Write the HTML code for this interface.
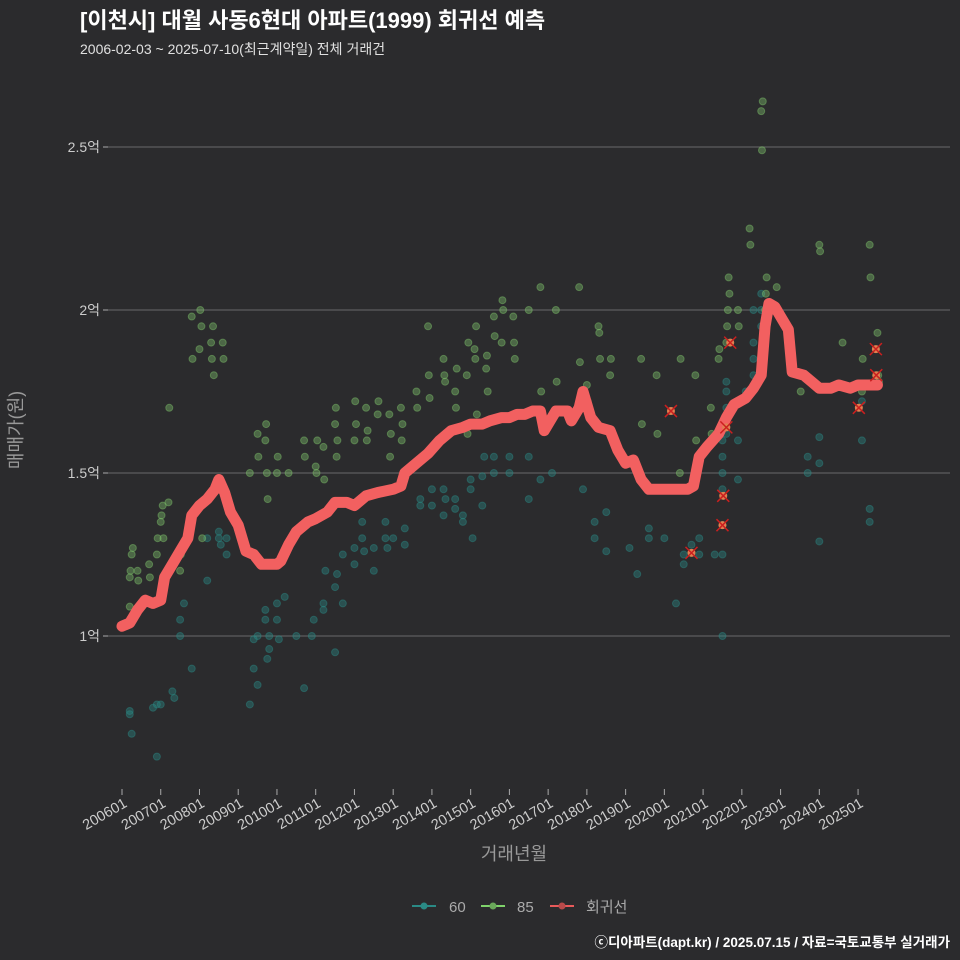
<!DOCTYPE html>
<html><head><meta charset="utf-8"><style>
body{margin:0;background:#2b2b2d;}
svg{display:block;font-family:"Liberation Sans","Noto Sans CJK KR",sans-serif;}
</style></head><body>
<svg id="chart" width="960" height="960" viewBox="0 0 960 960">
<rect width="960" height="960" fill="#2b2b2d"/>
<text x="80" y="28" fill="#ffffff" font-size="22" font-weight="bold">[이천시] 대월 사동6현대 아파트(1999) 회귀선 예측</text>
<text x="80" y="54" fill="#e0e0e0" font-size="14">2006-02-03 ~ 2025-07-10(최근계약일) 전체 거래건</text>
<g id="grid"></g><g id="pts"></g><g id="reg"></g><g id="xs"></g><g id="axes"></g>
<text transform="translate(22,430) rotate(-90)" text-anchor="middle" fill="#999" font-size="18">매매가(원)</text>
<text x="514" y="860" text-anchor="middle" fill="#999" font-size="18">거래년월</text>
<g>
<g><line x1="412" y1="906" x2="436" y2="906" stroke="#2a8a85" stroke-width="2"/><circle cx="424" cy="906" r="3.5" fill="#2a8a85"/><text x="449" y="912" fill="#aaa" font-size="15">60</text></g>
<g><line x1="481" y1="906" x2="505" y2="906" stroke="#7fd36b" stroke-width="2"/><circle cx="493" cy="906" r="3.5" fill="#6aa85a"/><text x="517" y="912" fill="#aaa" font-size="15">85</text></g>
<g><line x1="550" y1="906" x2="574" y2="906" stroke="#e85a5a" stroke-width="2"/><circle cx="562" cy="906" r="3.5" fill="#b84a4a"/><text x="586" y="912" fill="#aaa" font-size="15">회귀선</text></g>
</g>
<text x="950" y="947" text-anchor="end" fill="#fff" font-size="13.5" font-weight="bold">ⓒ디아파트(dapt.kr) / 2025.07.15 / 자료=국토교통부 실거래가</text>
</svg>
<script>
const yTicks=[1,1.5,2,2.5];
const yTickLabels=["1억","1.5억","2억","2.5억"];
const xTickYears=[2006,2007,2008,2009,2010,2011,2012,2013,2014,2015,2016,2017,2018,2019,2020,2021,2022,2023,2024,2025];
const regT=[2006.0,2006.2,2006.4,2006.6,2006.8,2007.0,2007.1,2007.3,2007.5,2007.7,2007.8,2008.0,2008.2,2008.4,2008.5,2008.65,2008.8,2009.0,2009.1,2009.2,2009.4,2009.6,2009.8,2010.0,2010.1,2010.3,2010.5,2010.8,2011.0,2011.3,2011.5,2011.8,2012.0,2012.3,2012.6,2013.0,2013.2,2013.3,2013.6,2013.9,2014.2,2014.5,2014.8,2015.0,2015.3,2015.5,2015.8,2016.0,2016.2,2016.4,2016.6,2016.8,2016.9,2017.2,2017.5,2017.6,2017.8,2017.9,2018.1,2018.3,2018.6,2018.8,2019.0,2019.2,2019.4,2019.6,2019.8,2020.0,2020.3,2020.6,2020.75,2020.9,2021.1,2021.4,2021.6,2021.8,2022.1,2022.3,2022.5,2022.6,2022.7,2022.85,2023.0,2023.2,2023.3,2023.6,2023.8,2024.0,2024.3,2024.5,2024.8,2025.0,2025.3,2025.5];
const regV=[1.03,1.04,1.08,1.11,1.10,1.11,1.18,1.22,1.26,1.30,1.37,1.40,1.42,1.45,1.48,1.44,1.38,1.34,1.30,1.26,1.25,1.22,1.22,1.22,1.23,1.28,1.32,1.35,1.36,1.38,1.41,1.41,1.40,1.43,1.44,1.45,1.46,1.50,1.53,1.56,1.60,1.63,1.64,1.65,1.65,1.66,1.67,1.67,1.68,1.68,1.69,1.69,1.63,1.69,1.69,1.66,1.70,1.75,1.67,1.64,1.63,1.57,1.53,1.54,1.48,1.45,1.45,1.45,1.45,1.45,1.46,1.55,1.58,1.62,1.67,1.71,1.73,1.76,1.80,1.95,2.02,2.01,1.98,1.94,1.81,1.80,1.78,1.76,1.76,1.77,1.76,1.77,1.77,1.77];
const t60=[2006.2,2006.2,2006.25,2006.8,2006.9,2006.9,2007.0,2007.3,2007.35,2007.5,2007.5,2007.6,2007.8,2008.2,2008.2,2008.5,2008.5,2008.55,2008.7,2008.7,2009.3,2009.4,2009.4,2009.5,2009.5,2009.7,2009.7,2009.75,2009.8,2009.8,2010.0,2010.0,2010.05,2010.2,2010.5,2010.7,2010.9,2010.95,2011.2,2011.2,2011.25,2011.5,2011.5,2011.55,2011.7,2011.7,2012.0,2012.0,2012.2,2012.2,2012.25,2012.5,2012.5,2012.8,2012.8,2012.85,2013.0,2013.3,2013.3,2013.7,2013.7,2014.0,2014.0,2014.3,2014.3,2014.35,2014.6,2014.6,2014.8,2014.8,2015.0,2015.0,2015.05,2015.3,2015.3,2015.35,2015.6,2015.6,2016.0,2016.0,2016.5,2016.5,2016.8,2017.1,2017.9,2018.2,2018.2,2018.5,2018.5,2019.1,2019.3,2019.6,2019.6,2020.0,2020.3,2020.5,2020.5,2020.7,2020.9,2020.9,2021.3,2021.5,2021.5,2021.5,2021.5,2021.5,2021.5,2021.5,2021.6,2021.6,2021.6,2021.6,2021.6,2021.9,2021.9,2022.1,2022.3,2022.3,2022.3,2022.3,2022.5,2022.5,2022.5,2023.7,2023.7,2024.0,2024.0,2024.0,2025.1,2025.1,2025.3,2025.3];
const v60=[0.77,0.76,0.70,0.78,0.79,0.63,0.79,0.83,0.81,1.0,1.05,1.1,0.9,1.3,1.17,1.3,1.32,1.28,1.3,1.25,0.79,0.9,0.99,0.85,1.0,1.05,1.08,0.93,1.0,0.96,1.05,1.1,0.99,1.12,1.0,0.84,1.0,1.05,1.1,1.08,1.2,0.95,1.15,1.19,1.1,1.25,1.27,1.22,1.35,1.3,1.26,1.27,1.2,1.3,1.35,1.27,1.3,1.33,1.28,1.4,1.42,1.45,1.4,1.45,1.37,1.42,1.42,1.39,1.37,1.35,1.45,1.48,1.3,1.49,1.4,1.55,1.55,1.5,1.5,1.55,1.42,1.55,1.48,1.5,1.45,1.35,1.3,1.38,1.26,1.27,1.19,1.3,1.33,1.3,1.1,1.22,1.25,1.28,1.3,1.25,1.25,1.0,1.25,1.34,1.45,1.5,1.55,1.6,1.62,1.67,1.7,1.75,1.78,1.48,1.6,1.75,1.8,1.85,1.9,2.0,2.0,2.05,1.95,1.5,1.55,1.61,1.29,1.53,1.6,1.72,1.35,1.39];
const t85=[2006.2,2006.2,2006.22,2006.25,2006.28,2006.4,2006.42,2006.7,2006.72,2006.9,2006.92,2007.0,2007.02,2007.05,2007.07,2007.2,2007.22,2007.5,2007.52,2007.8,2007.82,2008.0,2008.02,2008.05,2008.07,2008.3,2008.32,2008.35,2008.37,2008.6,2008.62,2009.3,2009.5,2009.52,2009.7,2009.72,2009.74,2009.76,2010.0,2010.02,2010.3,2010.7,2010.72,2011.0,2011.02,2011.04,2011.2,2011.22,2011.5,2011.52,2011.54,2011.56,2012.0,2012.02,2012.04,2012.3,2012.32,2012.34,2012.6,2012.62,2012.9,2012.92,2012.94,2013.2,2013.22,2013.24,2013.6,2013.62,2013.9,2013.92,2013.94,2014.3,2014.32,2014.34,2014.6,2014.62,2014.64,2014.9,2014.92,2014.94,2015.1,2015.12,2015.14,2015.16,2015.4,2015.42,2015.44,2015.6,2015.62,2015.8,2015.82,2015.84,2016.1,2016.12,2016.14,2016.5,2016.8,2016.82,2017.2,2017.22,2017.8,2017.82,2018.0,2018.02,2018.3,2018.32,2018.34,2018.6,2018.62,2019.4,2019.42,2019.8,2019.82,2020.4,2020.42,2020.8,2020.82,2021.2,2021.22,2021.4,2021.42,2021.6,2021.62,2021.64,2021.66,2021.68,2021.9,2021.92,2022.2,2022.22,2022.5,2022.52,2022.54,2022.6,2022.62,2022.64,2022.9,2023.5,2023.52,2024.0,2024.02,2024.6,2025.1,2025.12,2025.3,2025.32,2025.5,2025.52,2025.54];
const v85=[1.09,1.18,1.2,1.25,1.27,1.2,1.17,1.22,1.18,1.25,1.3,1.35,1.37,1.4,1.3,1.41,1.7,1.2,1.25,1.98,1.85,1.88,2.0,1.95,1.3,1.9,1.85,1.95,1.8,1.9,1.85,1.5,1.62,1.55,1.6,1.65,1.5,1.42,1.5,1.55,1.5,1.6,1.55,1.52,1.5,1.6,1.58,1.48,1.65,1.7,1.55,1.6,1.6,1.72,1.65,1.7,1.6,1.63,1.68,1.72,1.68,1.55,1.62,1.7,1.6,1.65,1.75,1.7,1.95,1.8,1.73,1.85,1.8,1.78,1.75,1.7,1.82,1.8,1.62,1.9,1.88,1.85,1.95,1.68,1.82,1.86,1.75,1.98,1.92,1.9,2.03,2.0,1.98,1.9,1.85,2.0,2.07,1.75,2.0,1.78,2.07,1.84,1.77,1.72,1.95,1.93,1.85,1.8,1.85,1.85,1.65,1.8,1.62,1.5,1.85,1.8,1.6,1.7,1.62,1.85,1.88,1.9,1.95,2.0,2.1,2.05,2.0,1.95,2.25,2.2,2.61,2.49,2.64,2.0,2.05,2.1,2.07,1.8,1.75,2.2,2.18,1.9,1.75,1.85,2.2,2.1,1.93,1.8,1.78];
const tX=[2020.17,2020.7,2021.5,2021.52,2021.6,2021.7,2025.02,2025.46,2025.47];
const vX=[1.69,1.255,1.34,1.43,1.64,1.90,1.70,1.88,1.80];

const NS="http://www.w3.org/2000/svg";
const X0=103,X1=950;
function sx(t){return 122+(t-2006)*38.74;}
function sy(v){return 636-(v-1)*326;}
function mk(tag,attrs,parent){const e=document.createElementNS(NS,tag);for(const k in attrs)e.setAttribute(k,attrs[k]);parent.appendChild(e);return e;}
const grid=document.getElementById('grid'),axes=document.getElementById('axes');
yTicks.forEach((v,i)=>{
  const l=mk('line',{x1:X0,x2:X1,y1:sy(v),y2:sy(v),stroke:'#6a6a6a','stroke-width':1},grid);
  
  
  mk('line',{x1:X0,x2:X0+5,y1:sy(v),y2:sy(v),stroke:'#aaa'},axes);
  const t=mk('text',{x:X0-3,y:sy(v)+5,'text-anchor':'end',fill:'#ccc','font-size':14},axes);
  t.textContent=yTickLabels[i];
  
  
});
xTickYears.forEach(y=>{
  const x=sx(y);
  mk('line',{x1:x,x2:x,y1:789,y2:795,stroke:'#aaa'},axes);
  const t=mk('text',{x:0,y:0,'text-anchor':'end',fill:'#ccc','font-size':14.5,transform:`translate(${x+6},${806}) rotate(-30)`},axes);
  t.textContent=y+'01';
  
  
});
const pts=document.getElementById('pts');
t60.forEach((t,i)=>{
  const c=mk('circle',{cx:sx(t),cy:sy(v60[i]),r:3.5,fill:'#2a8a85','fill-opacity':0.4,stroke:'#2a8a85','stroke-opacity':0.45},pts);
  
  
});
t85.forEach((t,i)=>{
  const c=mk('circle',{cx:sx(t),cy:sy(v85[i]),r:3.5,fill:'#7fc46b','fill-opacity':0.4,stroke:'#7fc46b','stroke-opacity':0.45},pts);
  
  
});
const reg=document.getElementById('reg');
const p=mk('polyline',{points:regT.map((t,i)=>sx(t)+','+sy(regV[i])).join(' '),fill:'none',stroke:'#f26060','stroke-width':11,'stroke-linejoin':'round','stroke-linecap':'round'},reg);


const xs=document.getElementById('xs');
tX.forEach((t,i)=>{
  const x=sx(t),y=sy(vX[i]);
  const g=mk('g',{},xs);
  
  
  mk('circle',{cx:x,cy:y,r:4,fill:'#e08050'},g);
  mk('path',{d:`M${x-6},${y-6}L${x+6},${y+6}M${x-6},${y+6}L${x+6},${y-6}`,stroke:'#cc1f1f','stroke-width':1.5},g);
});
</script>
</body></html>
